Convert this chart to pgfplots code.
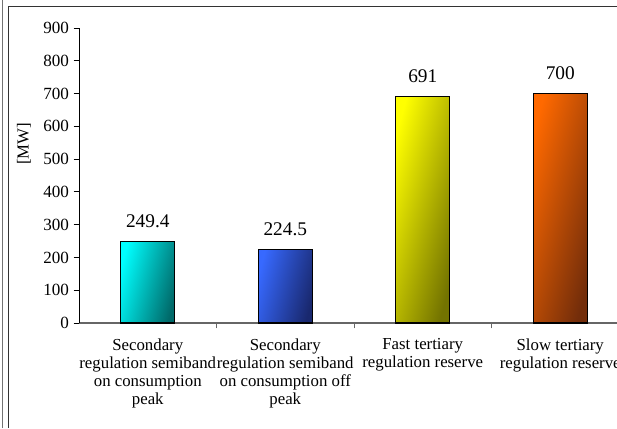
\documentclass[border=0pt]{standalone}
\usepackage{pgfplots}
\pgfplotsset{compat=1.18}
\usepackage{fontspec}
\setmainfont{Liberation Serif}
\definecolor{c1a}{RGB}{0,255,255}\definecolor{c1b}{RGB}{0,105,105}
\definecolor{c2a}{RGB}{55,105,255}\definecolor{c2b}{RGB}{25,40,110}
\definecolor{c3a}{RGB}{255,255,0}\definecolor{c3b}{RGB}{115,115,0}
\definecolor{c4a}{RGB}{255,105,0}\definecolor{c4b}{RGB}{115,45,10}
\begin{document}
\begin{tikzpicture}
\useasboundingbox (0,0) rectangle (462.75pt,321pt);
\clip (0,0) rectangle (462.75pt,321pt);
% frame
\draw[black!55, line width=0.75pt] (1.9pt,0) -- (1.9pt,321pt);
\draw[black!80, line width=0.75pt] (6.3pt,0) -- (6.3pt,316.3pt) -- (470pt,316.3pt);
\begin{axis}[
  at={(59.25pt,78.75pt)}, anchor=south west,
  scale only axis, width=412.5pt, height=221.25pt,
  xmin=-0.5, xmax=3.5, ymin=0, ymax=900,
  axis x line*=bottom, axis y line*=left,
  x axis line style={black!60, line width=0.8pt},
  y axis line style={black, line width=0.6pt},
  ytick={0,100,...,900},
  tick align=outside,
  major tick length=4pt,
  y tick style={black, line width=0.6pt},
  xtick={0.5,1.5,2.5}, xticklabels={},
  x tick style={black!60, line width=0.6pt},
  extra x ticks={0,1,2,3},
  extra x tick labels={{Secondary\\regulation semiband\\on consumption\\peak},{Secondary\\regulation semiband\\on consumption off\\peak},{Fast tertiary\\regulation reserve},{Slow tertiary\\regulation reserve}},
  extra x tick style={major tick length=0pt},
  xticklabel style={align=center, font=\fontsize{12.6}{13.5}\selectfont, text depth=0pt, yshift=-8pt},
  yticklabel style={font=\fontsize{12.8}{14}\selectfont},
  /pgf/number format/assume math mode=true,
  ylabel={[MW]},
  ylabel style={at={(axis description cs:-0.1,0.607)}, anchor=center, font=\fontsize{12.6}{14}\selectfont},
  ybar, bar width=40.5pt, bar shift=0pt,
  nodes near coords,
  every node near coord/.append style={font=\fontsize{14.5}{16}\selectfont, yshift=6.2pt},
  point meta=explicit symbolic,
  clip=false,
]
\addplot[draw=black, line width=1.1pt, left color=c1a, right color=c1b, shading angle=75] coordinates {(0,249.4) [249.4]};
\addplot[draw=black, line width=1.1pt, left color=c2a, right color=c2b, shading angle=75] coordinates {(1,224.5) [224.5]};
\addplot[draw=black, line width=1.1pt, left color=c3a, right color=c3b, shading angle=75] coordinates {(2,691) [691]};
\addplot[draw=black, line width=1.1pt, left color=c4a, right color=c4b, shading angle=75] coordinates {(3,700) [700]};
\end{axis}
\end{tikzpicture}
\end{document}
